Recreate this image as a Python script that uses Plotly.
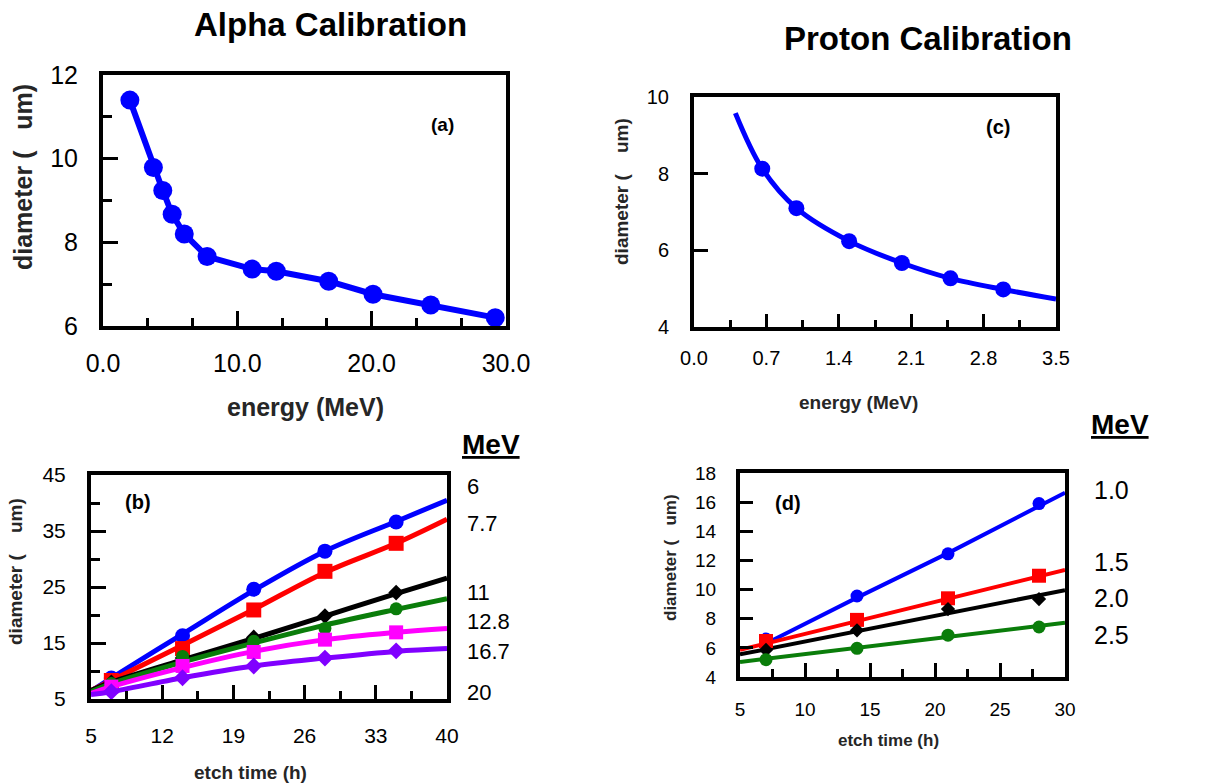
import plotly.graph_objects as go

W, H = 1220, 783

# ---------------- data ----------------
# (a) alpha calibration
a_energy = [2.0, 3.75, 4.45, 5.15, 6.05, 7.75, 11.1, 12.9, 16.8, 20.1, 24.4, 29.2]
a_diam = [11.4, 9.79, 9.24, 8.67, 8.2, 7.66, 7.36, 7.31, 7.07, 6.76, 6.5, 6.2]

# (c) proton calibration
c_energy = [0.66, 0.99, 1.5, 2.01, 2.48, 2.99]
c_diam = [8.13, 7.1, 6.24, 5.67, 5.27, 4.98]
c_curve_energy = [0.4, 0.66, 0.99, 1.5, 2.01, 2.48, 2.99, 3.5]
c_curve_diam = [9.58, 8.13, 7.1, 6.24, 5.67, 5.27, 4.98, 4.73]

# (b) alpha diameter vs etch time
b_time = [7, 14, 21, 28, 35]
b_curve_time = [5, 7, 14, 21, 28, 35, 40]
b_labels = ["6", "7.7", "11", "12.8", "16.7", "20"]
b_6 = [8.75, 16.3, 24.6, 31.4, 36.6]
b_7_7 = [8.3, 14.0, 20.9, 27.8, 32.8]
b_11 = [8.0, 12.3, 16.0, 19.8, 24.0]
b_12_8 = [7.75, 12.6, 15.3, 17.6, 21.1]
b_16_7 = [7.2, 10.9, 13.4, 15.6, 16.9]
b_20 = [6.3, 8.8, 10.9, 12.3, 13.6]
b_6_curve = [6.4, 8.75, 16.6, 24.4, 31.4, 36.7, 40.5]
b_7_7_curve = [6.5, 8.3, 14.6, 21.0, 27.6, 32.8, 37.1]
b_11_curve = [6.5, 8.0, 12.0, 15.8, 19.8, 23.8, 26.6]
b_12_8_curve = [6.3, 7.75, 11.6, 15.0, 18.2, 21.0, 22.9]
b_16_7_curve = [6.0, 7.2, 10.6, 13.5, 15.6, 16.9, 17.6]
b_20_curve = [5.8, 6.3, 8.8, 10.9, 12.3, 13.5, 14.0]

# (d) proton diameter vs etch time
d_time = [7, 14, 21, 28]
d_labels = ["1.0", "1.5", "2.0", "2.5"]
d_1_0 = [6.6, 9.56, 12.45, 15.9]
d_1_5 = [6.47, 7.92, 9.4, 10.95]
d_2_0 = [5.86, 7.2, 8.66, 9.35]
d_2_5 = [5.19, 5.97, 6.87, 7.43]
d_1_0_curve_time = [7, 14, 21, 28, 30]
d_1_0_curve = [6.3, 9.45, 12.5, 15.75, 16.65]
d_curve_time = [5, 30]
d_1_5_curve = [5.86, 11.35]
d_2_0_curve = [5.55, 9.96]
d_2_5_curve = [5.03, 7.72]

BLUE, RED, BLACK, GREEN, MAGENTA, PURPLE = "#0000ff", "#ff0000", "#000000", "#0a7d0a", "#ff00ff", "#8000ff"
FONT = "Liberation Sans, Arial, sans-serif"
TITLE_COL = "#262626"


def px(x):
    return x / W


def py(y):
    return 1 - y / H


fig = go.Figure()

# (a)
fig.add_trace(go.Scatter(x=a_energy, y=a_diam, mode="lines+markers", xaxis="x", yaxis="y",
                         line=dict(color=BLUE, width=6), marker=dict(color=BLUE, size=19, symbol="circle")))
# (c)
fig.add_trace(go.Scatter(x=c_curve_energy, y=c_curve_diam, mode="lines", xaxis="x2", yaxis="y2",
                         line=dict(color=BLUE, width=5, shape="spline")))
fig.add_trace(go.Scatter(x=c_energy, y=c_diam, mode="markers", xaxis="x2", yaxis="y2",
                         marker=dict(color=BLUE, size=16, symbol="circle")))
# (b)
b_series = [
    (b_6, b_6_curve, BLUE, "circle", 15),
    (b_7_7, b_7_7_curve, RED, "square", 15),
    (b_11, b_11_curve, BLACK, "diamond", 12),
    (b_12_8, b_12_8_curve, GREEN, "circle", 13),
    (b_16_7, b_16_7_curve, MAGENTA, "square", 14),
    (b_20, b_20_curve, PURPLE, "diamond", 13),
]
for vals, curve, col, sym, sz in b_series:
    fig.add_trace(go.Scatter(x=b_curve_time, y=curve, mode="lines", xaxis="x3", yaxis="y3",
                             line=dict(color=col, width=5, shape="spline")))
    fig.add_trace(go.Scatter(x=b_time, y=vals, mode="markers", xaxis="x3", yaxis="y3",
                             marker=dict(color=col, size=sz, symbol=sym)))
# (d)
fig.add_trace(go.Scatter(x=d_1_0_curve_time, y=d_1_0_curve, mode="lines", xaxis="x4", yaxis="y4",
                         line=dict(color=BLUE, width=4)))
for curve, col in [(d_1_5_curve, RED), (d_2_0_curve, BLACK), (d_2_5_curve, GREEN)]:
    fig.add_trace(go.Scatter(x=d_curve_time, y=curve, mode="lines", xaxis="x4", yaxis="y4",
                             line=dict(color=col, width=4)))
for vals, col, sym, sz in [(d_1_0, BLUE, "circle", 13), (d_1_5, RED, "square", 14),
                           (d_2_0, BLACK, "diamond", 11), (d_2_5, GREEN, "circle", 13)]:
    fig.add_trace(go.Scatter(x=d_time, y=vals, mode="markers", xaxis="x4", yaxis="y4",
                             marker=dict(color=col, size=sz, symbol=sym)))


def axis(domain, rng, dtick, tick0, mdtick, ticklen, mticklen, fsize, standoff, anchor, fmt=None):
    d = dict(domain=domain, range=rng, dtick=dtick, tick0=tick0, showgrid=False, zeroline=False,
             automargin=False,
             showline=True, mirror=True, linecolor="black", linewidth=4,
             ticks="inside", ticklen=ticklen, tickwidth=3, tickcolor="black",
             tickfont=dict(family=FONT, size=fsize, color="black"),
             ticklabelstandoff=standoff, anchor=anchor)
    if fmt:
        d["tickformat"] = fmt
    if mdtick:
        d["minor"] = dict(dtick=mdtick, tick0=tick0, ticks="inside", ticklen=mticklen, tickwidth=3,
                          tickcolor="black", showgrid=False)
    return d


layout = dict(
    template="none",
    width=W, height=H, margin=dict(l=0, r=0, t=0, b=0, pad=0),
    paper_bgcolor="white", plot_bgcolor="white", showlegend=False,
    xaxis=axis([px(103), px(506)], [0, 30], 10, 0, 10 / 3, 15, 8, 25, 12, "y", ".1f"),
    yaxis=axis([py(326), py(75)], [6, 12], 2, 0, 1, 15, 9, 25, 16, "x"),
    xaxis2=axis([px(694), px(1056)], [0, 3.5], 0.7, 0, 0.35, 13, 7, 20, 10, "y2", ".1f"),
    yaxis2=axis([py(327), py(97)], [4, 10], 2, 0, None, 14, 0, 20, 17, "x2"),
    xaxis3=axis([px(91), px(447)], [5, 40], 7, 5, 3.5, 14, 8, 21, 15, "y3"),
    yaxis3=axis([py(699), py(475)], [5, 45], 10, 5, 5, 15, 9, 21, 17, "x3"),
    xaxis4=axis([px(740), px(1065)], [5, 30], 5, 0, 2.5, 14, 8, 19, 12, "y4"),
    yaxis4=axis([py(677), py(473)], [4, 18], 2, 0, None, 13, 0, 19, 16, "x4"),
)
fig.update_layout(**layout)

ann = []


def text(x, y, s, size, bold=False, color="black", angle=0, xanchor="center"):
    ann.append(dict(x=px(x), y=py(y), xref="paper", yref="paper", text=(f"<b>{s}</b>" if bold else s),
                    showarrow=False, xanchor=xanchor, yanchor="middle", textangle=angle,
                    font=dict(family=FONT, size=size, color=color)))


text(330, 25, "Alpha Calibration", 33, True)
text(928, 38, "Proton Calibration", 33, True)
# axis titles
text(23, 177, "diameter (   um)", 25, True, TITLE_COL, -90)
text(305, 407, "energy (MeV)", 25, True, TITLE_COL)
text(622, 192, "diameter (    um)", 19, True, TITLE_COL, -90)
text(858, 402, "energy (MeV)", 19, True, TITLE_COL)
text(15, 572, "diameter (    um)", 19, True, TITLE_COL, -90)
text(250, 772, "etch time (h)", 19, True, TITLE_COL)
text(670, 558, "diameter (   um)", 17, True, TITLE_COL, -90)
text(888, 740, "etch time (h)", 17, True, TITLE_COL)
# panel letters
text(442, 125, "(a)", 19, True)
text(998, 127, "(c)", 20, True)
text(138, 502, "(b)", 20, True)
text(788, 503, "(d)", 20, True)
# MeV labels (b)
text(460, 445, "<u>MeV</u>", 28, True, xanchor="left")
for lab, yy in zip(b_labels, [487, 523, 592, 621, 651, 692]):
    text(465, yy, lab, 22, xanchor="left")
# MeV labels (d)
text(1089, 424, "<u>MeV</u>", 28, True, xanchor="left")
for lab, yy in zip(d_labels, [490, 562, 598, 635]):
    text(1092, yy, lab, 25, xanchor="left")

fig.update_layout(annotations=ann)
fig.write_html("out.html")
